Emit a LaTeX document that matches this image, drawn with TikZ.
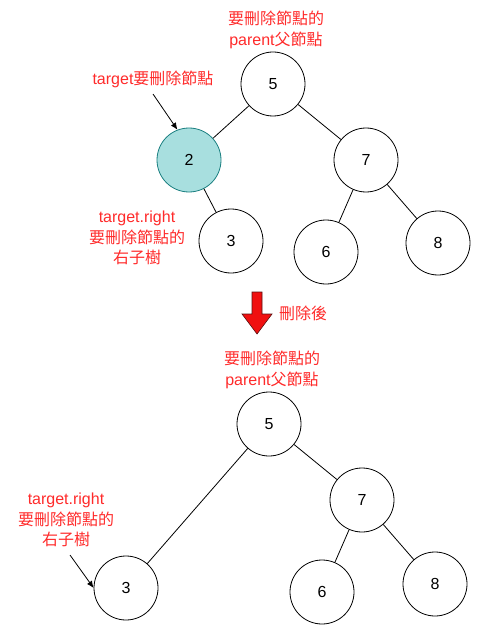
\documentclass[tikz,border=0pt]{standalone}
\usepackage{fontspec}
\setmainfont{Liberation Sans}
\newfontfamily\cjk{Noto Sans CJK TC}
\usepackage{xcolor}
\usetikzlibrary{arrows.meta}
\definecolor{notered}{HTML}{FF2A2A}
\definecolor{tealfill}{HTML}{A8DFDF}
\definecolor{tealline}{HTML}{1A7F80}
\definecolor{arrowred}{HTML}{F01010}
\definecolor{arrowline}{HTML}{5A1010}

\begin{document}
\begin{tikzpicture}[x=1pt, y=-1pt, >={Latex[length=7pt,width=6pt]},
    every node/.style={font=\fontsize{16}{20.5}\selectfont},
    treenode/.style={draw, circle, line width=0.8pt, minimum size=64pt, inner sep=0pt},
    note/.style={text=notered, align=center, inner sep=0pt}]
  \useasboundingbox (0,0) rectangle (493,639);

  % before
  \node[treenode] (n5) at (273,84) {5};
  \node[treenode, fill=tealfill, draw=tealline] (n2) at (189,160) {2};
  \node[treenode] (n7) at (366,160) {7};
  \node[treenode] (n3) at (231,241) {3};
  \node[treenode] (n6) at (326,252) {6};
  \node[treenode] (n8) at (438,243) {8};
  \draw[line width=0.8pt] (n5) -- (n2);
  \draw[line width=0.8pt] (n5) -- (n7);
  \draw[line width=0.8pt] (n2) -- (n3);
  \draw[line width=0.8pt] (n7) -- (n6);
  \draw[line width=0.8pt] (n7) -- (n8);

  \node[note] (parent1) at (276,30) {{\cjk 要刪除節點的}\\parent{\cjk 父節點}};
  \node[note] (target) at (153,79) {target{\cjk 要刪除節點}};
  \node[note] (right1) at (137,238) {target.right\\{\cjk 要刪除節點的}\\{\cjk 右子樹}};
  \coordinate (t0) at (153,94);
  \draw[->, line width=0.8pt] (t0) -- (n2.111);

  % step arrow
  \draw[fill=arrowred, draw=arrowline, line width=0.6pt]
    (252,292) -- (262,292) -- (262,314) -- (272,314) -- (257,334)
    -- (242,314) -- (252,314) -- cycle;
  \node[note] (after) at (303,313) {\cjk 刪除後};

  % after
  \node[treenode] (m5) at (269,424) {5};
  \node[treenode] (m7) at (362,500) {7};
  \node[treenode] (m3) at (126,588) {3};
  \node[treenode] (m6) at (322,592) {6};
  \node[treenode] (m8) at (435,584) {8};
  \draw[line width=0.8pt] (m5) -- (m3);
  \draw[line width=0.8pt] (m5) -- (m7);
  \draw[line width=0.8pt] (m7) -- (m6);
  \draw[line width=0.8pt] (m7) -- (m8);

  \node[note] (parent2) at (272,370) {{\cjk 要刪除節點的}\\parent{\cjk 父節點}};
  \node[note] (right2) at (66,520) {target.right\\{\cjk 要刪除節點的}\\{\cjk 右子樹}};
  \coordinate (r0) at (70,555);
  \draw[->, line width=0.8pt] (r0) -- (m3.west);
\end{tikzpicture}
\end{document}
